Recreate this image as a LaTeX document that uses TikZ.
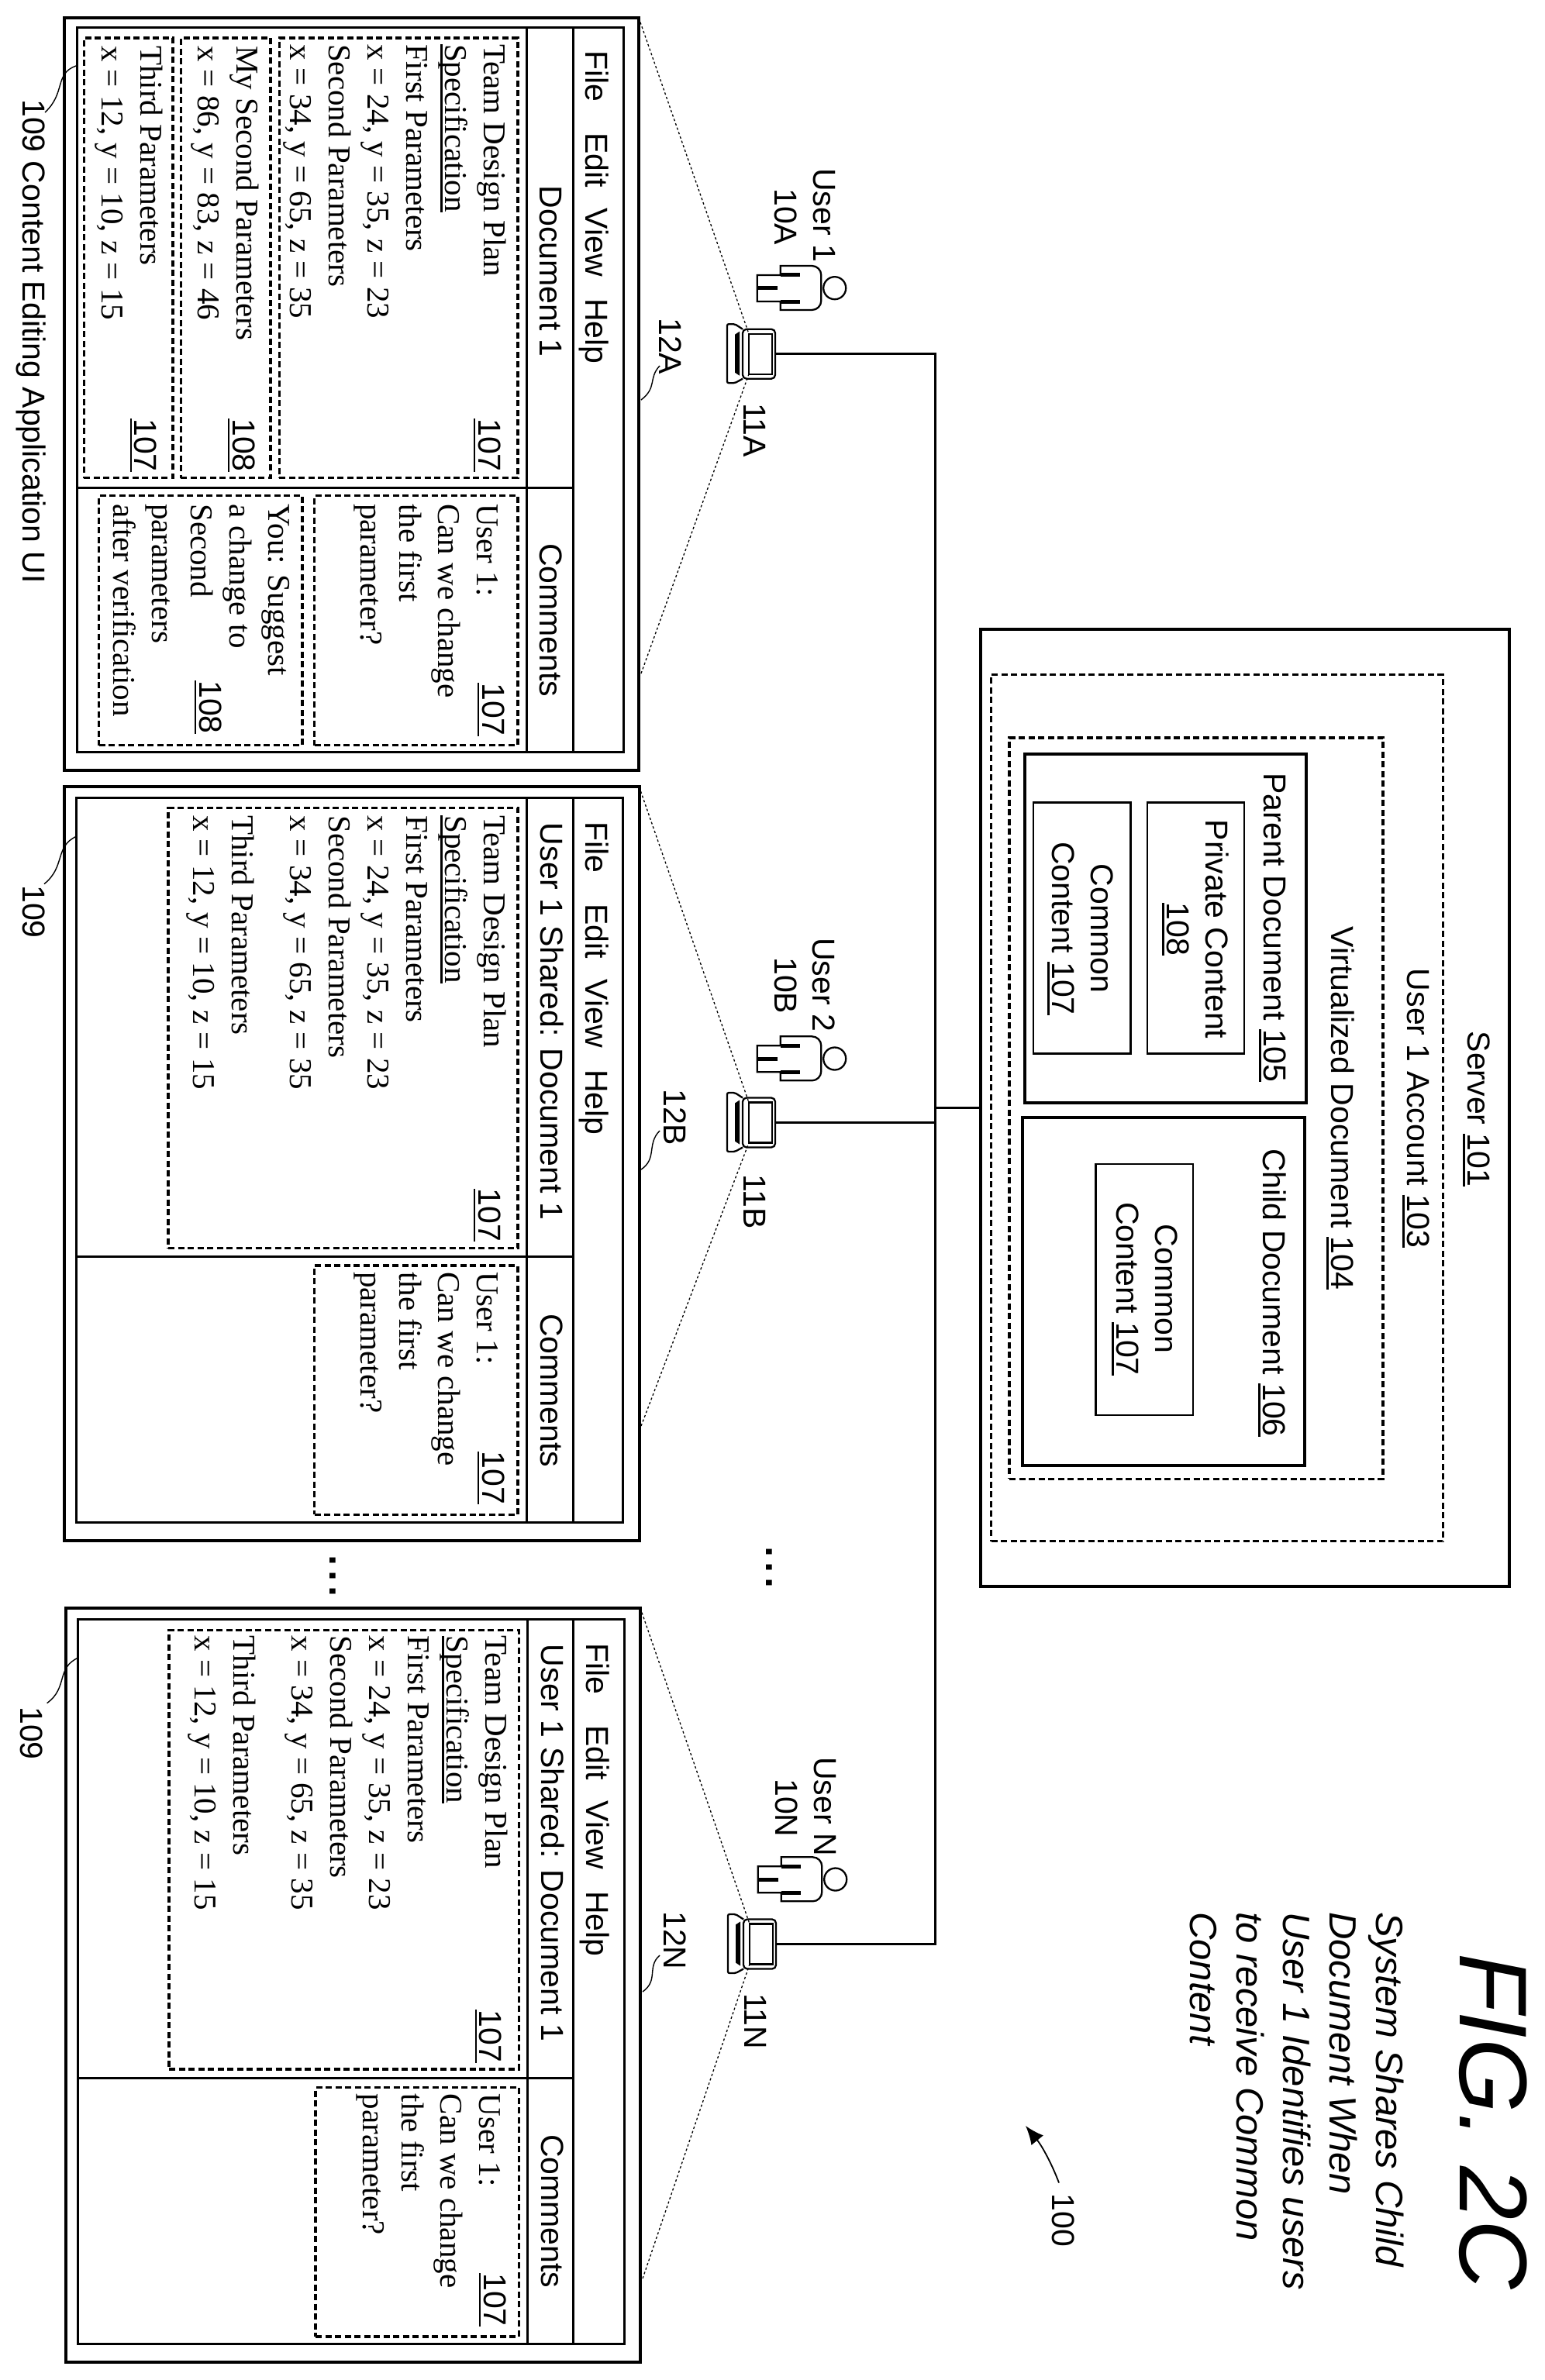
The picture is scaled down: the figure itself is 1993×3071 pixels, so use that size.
\documentclass[tikz,border=0pt]{standalone}
\usepackage{fontspec}
\setmainfont{Liberation Serif}
\setsansfont{Liberation Sans}
\usepackage{tikz}
\usetikzlibrary{arrows.meta,positioning}
\newcommand{\ulined}[1]{\setbox0=\hbox{#1}\rlap{\rule[-6pt]{\wd0}{2.4pt}}\box0}
\tikzset{
    box/.style={draw, anchor=north west, inner sep=0pt, outer sep=0pt},
    winframe/.style={box, line width=4pt},
    panel/.style={box, line width=3pt},
    dashbox/.style={box, line width=3.4pt, dash pattern=on 8pt off 4.5pt},
    docbox/.style={box, line width=4pt},
    contentbox/.style={box, line width=2.5pt},
    sertext/.style={rotate=-90, anchor=north west, inner sep=0pt, align=left, font=\fontsize{41}{50}\selectfont\rmfamily},
    santext/.style={rotate=-90, anchor=base west, inner sep=0pt, font=\fontsize{41}{50}\selectfont\sffamily},
    midtext/.style={rotate=-90, anchor=north, inner sep=0pt, align=center, font=\fontsize{41}{50}\selectfont\sffamily},
    wire/.style={line width=3pt},
    divider/.style={line width=3pt},
    viewline/.style={line width=1.3pt, dash pattern=on 3pt off 3pt},
    leader/.style={line width=1.4pt},
    laptop/.pic={
        \draw[line width=2.3pt, rounded corners=2pt] (-42,-32) -- (-52,-38.5) -- (-62,-38.5) -- (-62,37.5) -- (-52,37.5) -- (-42,32);
        \fill (-52,-25) -- (-46,-29) -- (-46,28) -- (-52,24) -- cycle;
        \node[box, line width=2.3pt, rounded corners=5pt, minimum width=42pt, minimum height=64pt, anchor=center] (-lid) at (-21,0) {};
        \node[box, line width=2.3pt, minimum width=30pt, minimum height=52pt, anchor=center] (-scr) at (-19,0) {};
    },
    usericon/.pic={
        \draw[line width=2.3pt] (0,0) circle (14.5);
        \draw[line width=2.3pt] (-70,-28.7) [rounded corners=12pt] -- (-17.4,-28.7) -- (-17.4,28.3) [sharp corners] -- (-70,28.3) -- (-70,17.3) -- (-100,17.3) -- (-100,-16.7) -- (-70,-16.7) -- cycle;
        \draw[line width=5pt] (-70,-17) -- (-45,-17);
        \draw[line width=5pt] (-70,17.5) -- (-45,17.5);
        \draw[line width=5pt] (-100,0) -- (-74,0);
    }
}

\begin{document}
\begin{tikzpicture}[x=1pt, y=-1pt]
    \useasboundingbox (0,0) rectangle (1993,3071);

    % Server
    \node[winframe, minimum width=682.3pt, minimum height=1235.3pt] (srv) at (1264.5,812) {};
    \node[dashbox, minimum width=582.8pt, minimum height=1118.2pt] (acc) at (1278.5,870.5) {};
    \node[dashbox, minimum width=482pt, minimum height=956.3pt] (virt) at (1302,952) {};
    \node[docbox, minimum width=363.5pt, minimum height=449.7pt] (par) at (1321.5,973.3) {};
    \node[docbox, minimum width=364.4pt, minimum height=449pt] (chi) at (1318.6,1442) {};
    \node[contentbox, minimum width=125pt, minimum height=324pt] (prv) at (1480,1035.5) {};
    \node[contentbox, minimum width=125.3pt, minimum height=324pt] (com1) at (1333,1035.5) {};
    \node[contentbox, minimum width=125.5pt, minimum height=324pt] (com2) at (1413.5,1502) {};

    \node[midtext] (srvT) at (1922,1431) {Server \ulined{101}};
    \node[midtext] (accT) at (1844,1430) {User 1 Account \ulined{103}};
    \node[midtext] (virtT) at (1747,1430) {Virtualized Document \ulined{104}};
    \node[midtext] (parT) at (1659,1197) {Parent Document \ulined{105}};
    \node[midtext] (chiT) at (1659,1668) {Child Document \ulined{106}};
    \node[midtext] (prvT) at (1585,1199) {Private Content\\\ulined{108}};
    \node[midtext] (com1T) at (1436,1198) {Common\\Content \ulined{107}};
    \node[midtext] (com2T) at (1519,1663) {Common\\Content \ulined{107}};

    % Window A
    \node[winframe, minimum width=741pt, minimum height=971pt] (winA) at (83,23) {};
    \node[panel, minimum width=65pt, minimum height=935pt] (menuA) at (739,35.5) {};
    \node[panel, minimum width=639.5pt, minimum height=593.5pt] (docA) at (99.5,35.5) {};
    \node[panel, minimum width=639.5pt, minimum height=341.5pt] (cmtA) at (99.5,629) {};
    \draw[divider] (679,35.5) -- (679,970.5);
    \node[dashbox, minimum width=307.6pt, minimum height=567.7pt] (d1A) at (360.4,49) {};
    \node[dashbox, minimum width=115.6pt, minimum height=567.7pt] (d2A) at (233.4,49) {};
    \node[dashbox, minimum width=114.6pt, minimum height=567.7pt] (d3A) at (108.4,49) {};
    \node[dashbox, minimum width=262.4pt, minimum height=322pt] (c1A) at (405.6,639.5) {};
    \node[dashbox, minimum width=262.4pt, minimum height=322pt] (c2A) at (127.6,639.5) {};

    \node[santext] (fileA) at (755.7,65) {File\hspace{40pt}Edit\hspace{27pt}View\hspace{28pt}Help};
    \node[santext] (nameA) at (696,239.4) {Document 1};
    \node[santext] (cnameA) at (696,701) {Comments};
    \node[sertext] (t1A) at (653,57) {Team Design Plan\\\ulined{Specification}\\First Parameters\\x = 24, y = 35, z = 23\\Second Parameters\\x = 34, y = 65, z = 35};
    \node[sertext] (t2A) at (334,59) {My Second Parameters\\x = 86, y = 83, z = 46};
    \node[sertext] (t3A) at (210,59) {Third Parameters\\x = 12, y = 10, z = 15};
    \node[sertext] (t4A) at (643,650) {User 1:\\Can we change\\the first\\parameter?};
    \node[sertext] (t5A) at (374,650) {You: Suggest\\a change to\\Second\\parameters\\after verification};
    \node[santext] (r1A) at (617,540) {\ulined{107}};
    \node[santext] (r2A) at (300,540) {\ulined{108}};
    \node[santext] (r3A) at (173.5,540) {\ulined{107}};
    \node[santext] (r4A) at (622,881) {\ulined{107}};
    \node[santext] (r5A) at (257,878) {\ulined{108}};

    \pic (lapA) at (1000,456.7) {laptop};
    \pic (userA) at (1076.7,371.7) {usericon};
    \node[santext] (uA) at (1049,217) {User 1};
    \node[santext] (idA) at (999,243) {10A};
    \node[santext] (lnA) at (959,520) {11A};
    \node[santext] (vwA) at (850,410) {12A};
    \node[santext] (ttlA) at (29,128) {109 Content Editing Application UI};

    \coordinate (lowA) at (827,869);
    \coordinate (tk12A) at (827,516);
    \coordinate (end12A) at (851,472);
    \coordinate (tk109A) at (98,85);
    \coordinate (end109A) at (58,145);
    \draw[viewline] (winA.north east) -- (lapA-scr.north west);
    \draw[viewline] (lowA) -- (lapA-scr.south west);
    \draw[leader] (tk12A) .. controls (848,500) and (836,488) .. (end12A);
    \draw[leader] (tk109A) .. controls (70,95) and (85,120) .. (end109A);

    % Window B
    \node[winframe, minimum width=741.5pt, minimum height=972.4pt] (winB) at (83,1015.3) {};
    \node[panel, minimum width=64.3pt, minimum height=935pt] (menuB) at (739,1029) {};
    \node[panel, minimum width=640.8pt, minimum height=592.4pt] (docB) at (98.2,1029) {};
    \node[panel, minimum width=640.8pt, minimum height=342.6pt] (cmtB) at (98.2,1621.4) {};
    \draw[divider] (679,1029) -- (679,1964);
    \node[dashbox, minimum width=451pt, minimum height=568pt] (d1B) at (217,1042.7) {};
    \node[dashbox, minimum width=262.4pt, minimum height=321.5pt] (c1B) at (405.6,1632.8) {};

    \node[santext] (fileB) at (755.7,1060) {File\hspace{40pt}Edit\hspace{27pt}View\hspace{28pt}Help};
    \node[santext] (nameB) at (697,1061.7) {User 1 Shared: Document 1};
    \node[santext] (cnameB) at (697,1695) {Comments};
    \node[sertext] (t1B) at (653,1052) {Team Design Plan\\\ulined{Specification}\\First Parameters\\x = 24, y = 35, z = 23\\Second Parameters\\x = 34, y = 65, z = 35\\[25pt]Third Parameters\\x = 12, y = 10, z = 15};
    \node[sertext] (t4B) at (643,1641) {User 1:\\Can we change\\the first\\parameter?};
    \node[santext] (r1B) at (617,1533.7) {\ulined{107}};
    \node[santext] (r4B) at (622,1872.5) {\ulined{107}};

    \pic (lapB) at (1000,1448.5) {laptop};
    \pic (userB) at (1076.7,1366) {usericon};
    \node[santext] (uB) at (1048,1210) {User 2};
    \node[santext] (idB) at (999,1235) {10B};
    \node[santext] (lnB) at (959,1515.6) {11B};
    \node[santext] (vwB) at (856,1405) {12B};
    \node[santext] (ttlB) at (29,1142) {109};

    \coordinate (lowB) at (827,1840);
    \coordinate (tk12B) at (827,1509);
    \coordinate (end12B) at (851,1459);
    \coordinate (tk109B) at (99,1079);
    \coordinate (end109B) at (57,1140.6);
    \draw[viewline] (winB.north east) -- (lapB-scr.north west);
    \draw[viewline] (lowB) -- (lapB-scr.south west);
    \draw[leader] (tk12B) .. controls (848,1495) and (834,1476) .. (end12B);
    \draw[leader] (tk109B) .. controls (70,1092) and (85,1118) .. (end109B);

    % Window N
    \node[winframe, minimum width=741pt, minimum height=972.5pt] (winN) at (85,2075) {};
    \node[panel, minimum width=65.3pt, minimum height=935pt] (menuN) at (739.7,2089.3) {};
    \node[panel, minimum width=639.7pt, minimum height=592.3pt] (docN) at (100,2089.3) {};
    \node[panel, minimum width=639.7pt, minimum height=342.7pt] (cmtN) at (100,2681.6) {};
    \draw[divider] (680,2089.3) -- (680,3024.3);
    \node[dashbox, minimum width=451.3pt, minimum height=566.7pt] (d1N) at (218,2103.3) {};
    \node[dashbox, minimum width=262.3pt, minimum height=321.5pt] (c1N) at (407,2693.6) {};

    \node[santext] (fileN) at (756.7,2120) {File\hspace{40pt}Edit\hspace{27pt}View\hspace{28pt}Help};
    \node[santext] (nameN) at (698,2121.7) {User 1 Shared: Document 1};
    \node[santext] (cnameN) at (698,2754) {Comments};
    \node[sertext] (t1N) at (655,2110.5) {Team Design Plan\\\ulined{Specification}\\First Parameters\\x = 24, y = 35, z = 23\\Second Parameters\\x = 34, y = 65, z = 35\\[25pt]Third Parameters\\x = 12, y = 10, z = 15};
    \node[sertext] (t4N) at (646,2701.7) {User 1:\\Can we change\\the first\\parameter?};
    \node[santext] (r1N) at (618.5,2593) {\ulined{107}};
    \node[santext] (r4N) at (624,2933) {\ulined{107}};

    \pic (lapN) at (1001,2508.5) {laptop};
    \pic (userN) at (1077.7,2425) {usericon};
    \node[santext] (uN) at (1050,2267) {User N};
    \node[santext] (idN) at (1000,2295) {10N};
    \node[santext] (lnN) at (960,2572) {11N};
    \node[santext] (vwN) at (856,2466) {12N};
    \node[santext] (ttlN) at (27,2202) {109};

    \coordinate (lowN) at (829,2940);
    \coordinate (tk12N) at (829,2570);
    \coordinate (end12N) at (851,2523);
    \coordinate (tk109N) at (101,2139);
    \coordinate (end109N) at (60.6,2197.6);
    \draw[viewline] (winN.north east) -- (lapN-scr.north west);
    \draw[viewline] (lowN) -- (lapN-scr.south west);
    \draw[leader] (tk12N) .. controls (850,2555) and (834,2538) .. (end12N);
    \draw[leader] (tk109N) .. controls (72,2152) and (88,2178) .. (end109N);

    % Network
    \coordinate (trunkA) at (1206,456.7);
    \coordinate (trunkN) at (1206,2508.5);
    \draw[wire] (lapA-lid.east) -- (trunkA) -- (trunkN) -- (lapN-lid.east);
    \draw[wire] (lapB-lid.east) -- (trunkA |- lapB-lid.east);
    \draw[wire] (srv.west) -- (trunkA |- srv.west);

    % Dots between the windows
    \node[rotate=-90, anchor=base, inner sep=0pt, font=\fontsize{72}{72}\selectfont\sffamily] (dots1) at (425,2033) {...};
    \node[rotate=-90, anchor=base, inner sep=0pt, font=\fontsize{72}{72}\selectfont\sffamily] (dots2) at (988,2022) {...};

    % Caption
    \node[santext, font=\fontsize{124}{124}\selectfont\sffamily\itshape] (fig) at (1883,2520) {FIG. 2C};
    \node[sertext, font=\fontsize{49}{60}\selectfont\sffamily\itshape] (cap) at (1811,2467) {System Shares Child\\Document When\\User 1 Identifies users\\to receive Common\\Content};
    \node[santext] (sys) at (1357,2830.5) {100};
    \coordinate (arrS) at (1366,2816.5);
    \coordinate (arrE) at (1323,2743);
    \draw[line width=1.8pt, -{Latex[length=24pt,width=20pt]}] (arrS) .. controls (1358,2795) and (1345,2770) .. (arrE);
\end{tikzpicture}
\end{document}
